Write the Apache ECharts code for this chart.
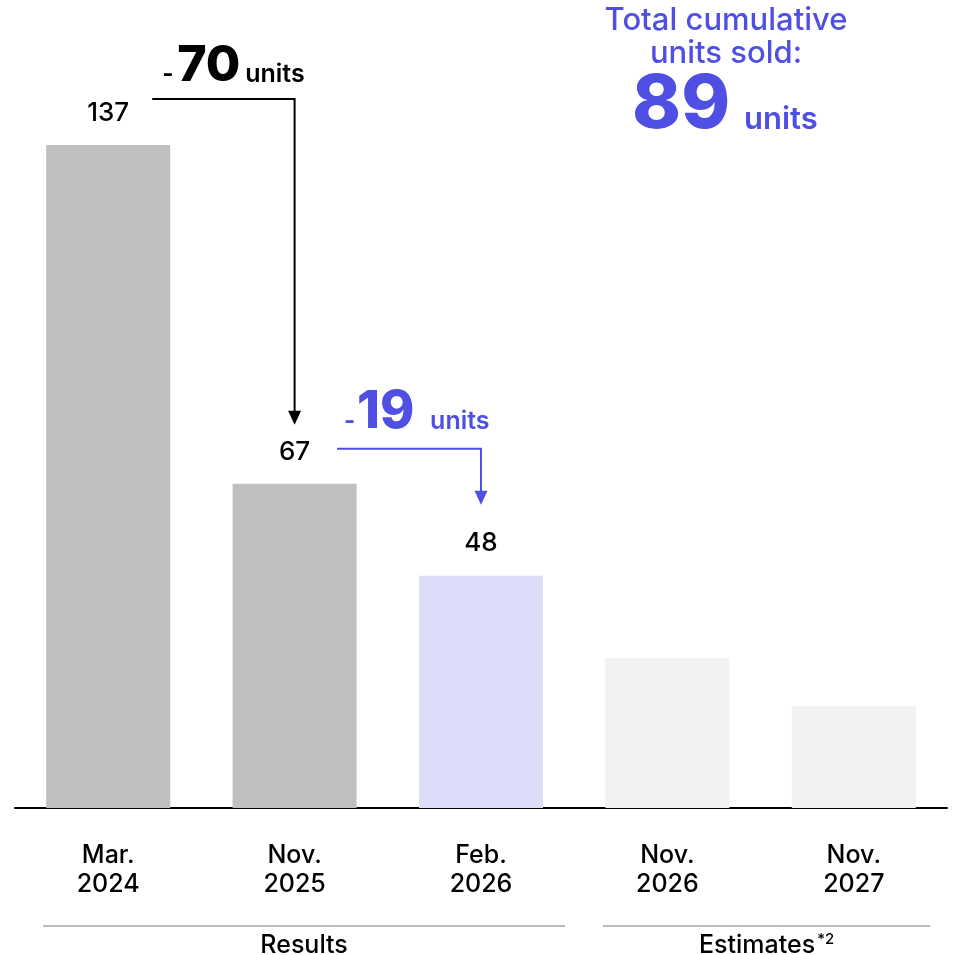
<!DOCTYPE html>
<html>
<head>
<meta charset="utf-8">
<script src="https://cdn.jsdelivr.net/npm/echarts@6/dist/echarts.min.js"></script>
<style>
html,body{margin:0;padding:0;background:#fff;}
#c{width:957px;height:955px;}
</style>
</head>
<body>
<div id="c"></div>
<script>
var categories = ['Mar.\n2024', 'Nov.\n2025', 'Feb.\n2026', 'Nov.\n2026', 'Nov.\n2027'];
var values = [137, 67, 48, 31, 21];
var showLabel = [true, true, true, false, false];
var barColors = ['#bfbfbf', '#bfbfbf', '#dcdcf8', '#f2f2f2', '#f2f2f2'];
var groups = [
  { name: 'Results', sup: '', from: 0, to: 2 },
  { name: 'Estimates', sup: '*2', from: 3, to: 4 }
];
var drops = [
  { from: 0, to: 1, diff: 70, color: '#000000' },
  { from: 1, to: 2, diff: 19, color: '#4f4fe3' }
];
var totalUnits = 89;

var FONT = 'Inter, "Noto Sans", sans-serif';
var PURPLE = '#4f4fe3';

var chart = echarts.init(document.getElementById('c'), null, { renderer: 'canvas' });

var option = {
  animation: false,
  backgroundColor: '#ffffff',
  grid: { left: 15, right: 10, top: 82, bottom: 147, containLabel: false },
  xAxis: {
    type: 'category',
    data: categories,
    axisLine: { show: true, lineStyle: { color: '#000', width: 2 } },
    axisTick: { show: false },
    axisLabel: {
      margin: 33,
      color: '#000',
      fontFamily: FONT,
      fontSize: 25,
      fontWeight: 500,
      lineHeight: 29,
      interval: 0
    }
  },
  yAxis: {
    type: 'value',
    min: 0,
    max: 150,
    show: false,
    splitLine: { show: false }
  },
  series: [{
    type: 'bar',
    barWidth: 124,
    data: values.map(function (v, i) {
      return {
        value: v,
        itemStyle: { color: barColors[i] },
        label: {
          show: showLabel[i],
          position: 'top',
          distance: 19,
          color: '#000',
          fontFamily: FONT,
          fontSize: 26,
          fontWeight: 500
        }
      };
    })
  }]
};
chart.setOption(option);

function px(i, v) { return chart.convertToPixel({ seriesIndex: 0 }, [i, v]); }
var mctx = document.createElement('canvas').getContext('2d');
function textW(t, f) { mctx.font = f; return mctx.measureText(t).width; }

var g = [];

// drop arrows
drops.forEach(function (d, k) {
  var a = px(d.from, values[d.from]);
  var b = px(d.to, values[d.to]);
  var startX, lineY, tipY, numLeft, numY, unitLeft, unitY, dashLeft, numSize;
  if (k === 0) {
    startX = a[0] + 44; lineY = a[1] - 46; tipY = b[1] - 59;
    numLeft = startX + 25; numY = lineY - 33; unitLeft = startX + 93; unitY = lineY - 24; dashLeft = startX + 10;
    numSize = 50;
  } else {
    startX = a[0] + 42.5; lineY = a[1] - 35; tipY = b[1] - 71;
    numLeft = startX + 20; numY = lineY - 36; unitLeft = startX + 93; unitY = lineY - 27; dashLeft = startX + 7;
    numSize = 52;
  }
  var endX = b[0];
  g.push({
    type: 'polyline',
    shape: { points: [[startX, lineY], [endX, lineY], [endX, tipY - 12]] },
    style: { stroke: d.color, lineWidth: 2, fill: null }
  });
  g.push({
    type: 'polygon',
    shape: { points: [[endX - 6.5, tipY - 14], [endX + 6.5, tipY - 14], [endX, tipY]] },
    style: { fill: d.color }
  });
  g.push({
    type: 'text', x: dashLeft, y: unitY,
    style: { text: '-', fill: d.color, font: '700 24px ' + FONT, align: 'left', verticalAlign: 'middle' }
  });
  g.push({
    type: 'text', x: numLeft, y: numY,
    style: { text: String(d.diff), fill: d.color, font: '800 ' + numSize + 'px ' + FONT, align: 'left', verticalAlign: 'middle' }
  });
  g.push({
    type: 'text', x: unitLeft, y: unitY,
    style: { text: 'units', fill: d.color, font: '600 25px ' + FONT, align: 'left', verticalAlign: 'middle' }
  });
});

// group separators
var baseY = px(0, 0)[1];
var groupOffsets = [[-65, 84], [-64.5, 76.5]];
groups.forEach(function (gr, k) {
  var x1 = px(gr.from, 0)[0] + groupOffsets[k][0];
  var x2 = px(gr.to, 0)[0] + groupOffsets[k][1];
  g.push({
    type: 'line',
    shape: { x1: x1, y1: baseY + 118, x2: x2, y2: baseY + 118 },
    style: { stroke: '#a6a6a6', lineWidth: 1.5 }
  });
  var mainFont = '500 25px ' + FONT;
  var supFont = '500 15px ' + FONT;
  var cx = (x1 + x2) / 2;
  var wm = textW(gr.name, mainFont);
  var ws = gr.sup ? textW(gr.sup, supFont) + 2 : 0;
  var left = cx - (wm + ws) / 2;
  g.push({ type: 'text', x: left, y: baseY + 137,
    style: { text: gr.name, fill: '#000', font: mainFont, align: 'left', verticalAlign: 'middle' } });
  if (gr.sup) {
    g.push({ type: 'text', x: left + wm + 2, y: baseY + 131,
      style: { text: gr.sup, fill: '#000', font: supFont, align: 'left', verticalAlign: 'middle' } });
  }
});

// total cumulative
var tx = 726;
g.push({ type: 'text', x: tx, y: 21, style: { text: 'Total cumulative', fill: PURPLE, font: '500 31px ' + FONT, align: 'center', verticalAlign: 'middle' } });
g.push({ type: 'text', x: tx, y: 54, style: { text: 'units sold:', fill: PURPLE, font: '500 31px ' + FONT, align: 'center', verticalAlign: 'middle' } });
g.push({ type: 'text', x: 632, y: 106, style: { text: String(totalUnits), fill: PURPLE, font: '800 74px ' + FONT, align: 'left', verticalAlign: 'middle' } });
g.push({ type: 'text', x: 744, y: 120, style: { text: 'units', fill: PURPLE, font: '600 31px ' + FONT, align: 'left', verticalAlign: 'middle' } });

chart.setOption({ graphic: { elements: g } });
</script>
</body>
</html>
